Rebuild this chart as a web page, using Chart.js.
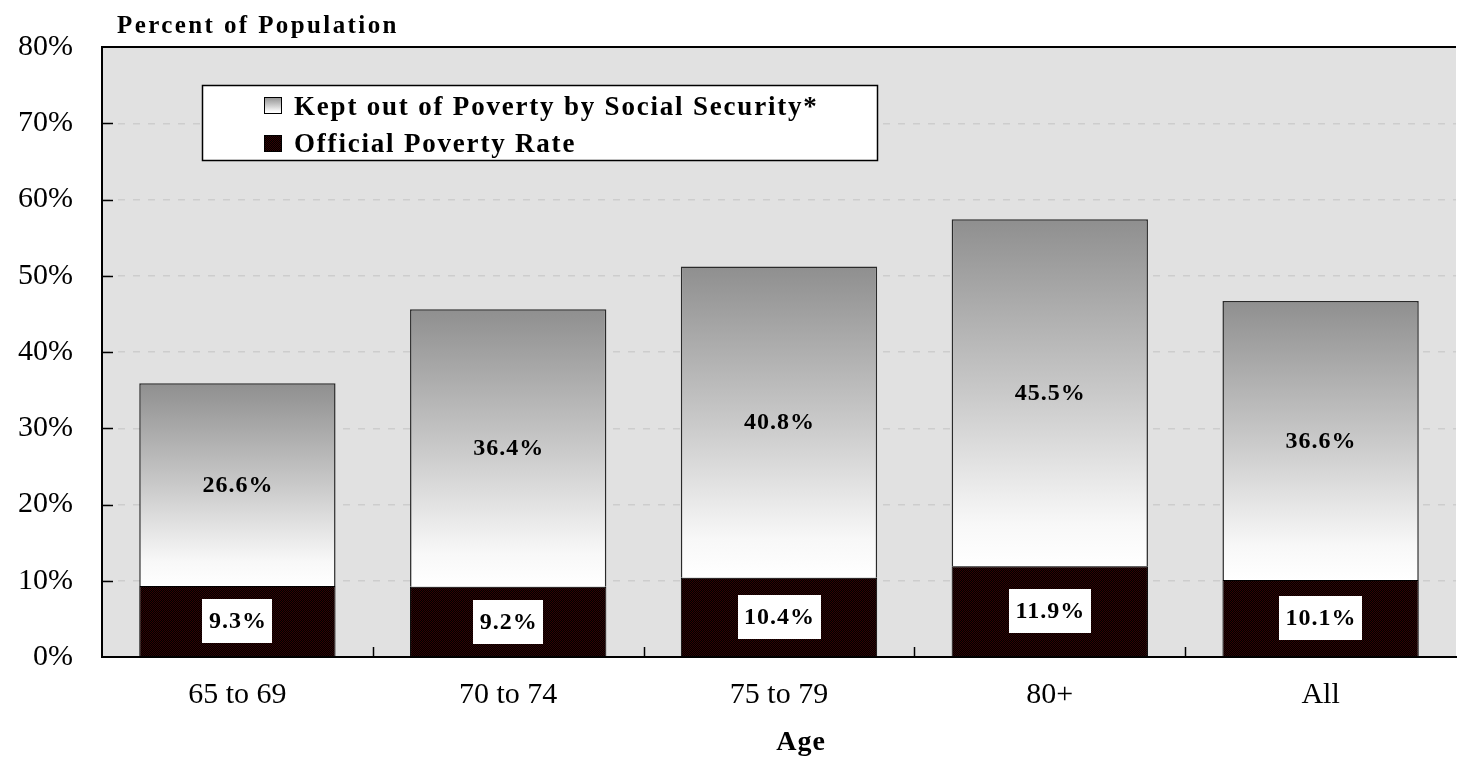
<!DOCTYPE html>
<html>
<head>
<meta charset="utf-8">
<script src="https://cdn.jsdelivr.net/npm/chart.js@4/dist/chart.umd.min.js"></script>
<style>
  html, body { margin: 0; padding: 0; background: #ffffff; }
  #wrap { width: 1458px; height: 757px; position: relative; }
</style>
</head>
<body>
<div id="wrap"><canvas id="c" width="1458" height="757"></canvas></div>
<script>
// ---- data ----
const categories = ['65 to 69', '70 to 74', '75 to 79', '80+', 'All'];
const officialRate = [9.3, 9.2, 10.4, 11.9, 10.1];
const keptOut = [26.6, 36.4, 40.8, 45.5, 36.6];
const seriesLabels = ['Official Poverty Rate', 'Kept out of Poverty by Social Security*'];
const yAxisTitle = 'Percent of Population';
const xAxisTitle = 'Age';
const yMin = 0, yMax = 80, yStep = 10;

const SERIF = '"Liberation Serif", "Times New Roman", serif';

// dark dotted fill for the official-rate bars
function makePattern() {
  const p = document.createElement('canvas');
  p.width = 2; p.height = 2;
  const g = p.getContext('2d');
  g.fillStyle = '#000000'; g.fillRect(0, 0, 2, 2);
  g.fillStyle = '#320303'; g.fillRect(0, 0, 1, 1); g.fillRect(1, 1, 1, 1);
  return g.createPattern(p, 'repeat');
}
const darkFill = makePattern();

function grayGradient(c2d, top, bot) {
  const g = c2d.createLinearGradient(0, top, 0, bot);
  g.addColorStop(0, '#8f8f8f');
  g.addColorStop(0.5, '#c9c9c9');
  g.addColorStop(0.88, '#f8f8f8');
  g.addColorStop(1, '#ffffff');
  return g;
}

const decorPlugin = {
  id: 'decor',
  beforeDraw(chart) {
    const { ctx, chartArea: a } = chart;
    ctx.save();
    ctx.fillStyle = '#ffffff';
    ctx.fillRect(0, 0, chart.width, chart.height);
    ctx.fillStyle = '#e1e1e1';
    ctx.fillRect(a.left, a.top, a.right - a.left, a.bottom - a.top);
    ctx.restore();
  },
  afterDatasetsDraw(chart) {
    const { ctx, chartArea: a, scales: { x, y } } = chart;
    ctx.save();
    // inward tick marks
    ctx.strokeStyle = '#000000';
    ctx.lineWidth = 1.5;
    for (let v = yMin + yStep; v < yMax; v += yStep) {
      const py = Math.round(y.getPixelForValue(v)) + 0.5;
      ctx.beginPath(); ctx.moveTo(a.left, py); ctx.lineTo(a.left + 11, py); ctx.stroke();
    }
    for (let i = 0; i < categories.length - 1; i++) {
      const px = Math.round((x.getPixelForValue(i) + x.getPixelForValue(i + 1)) / 2) + 0.5;
      ctx.beginPath(); ctx.moveTo(px, a.bottom); ctx.lineTo(px, a.bottom - 10); ctx.stroke();
    }
    // top frame line
    ctx.lineWidth = 2;
    ctx.beginPath(); ctx.moveTo(a.left, a.top); ctx.lineTo(a.right, a.top); ctx.stroke();

    // data labels
    ctx.textAlign = 'center';
    ctx.textBaseline = 'middle';
    ctx.font = 'bold 24px ' + SERIF;
    ctx.letterSpacing = '1px';
    chart.data.datasets.forEach((ds, di) => {
      const meta = chart.getDatasetMeta(di);
      meta.data.forEach((el, i) => {
        const p = el.getProps(['x', 'y', 'base'], true);
        const cy = (p.y + p.base) / 2;
        const txt = ds.data[i].toFixed(1) + '%';
        if (di === 0) {
          const w = ctx.measureText(txt).width + 12;
          const h = 44;
          ctx.fillStyle = '#ffffff';
          ctx.fillRect(Math.round(p.x - w / 2), Math.round(cy - h / 2), Math.round(w), h);
        }
        ctx.fillStyle = '#000000';
        ctx.fillText(txt, p.x + 0.5, cy + 1);
      });
    });
    ctx.restore();
  },
  afterDraw(chart) {
    const { ctx, chartArea: a } = chart;
    ctx.save();
    // y-axis title (horizontal, top-left)
    ctx.fillStyle = '#000000';
    ctx.textAlign = 'left';
    ctx.textBaseline = 'alphabetic';
    ctx.font = 'bold 25px ' + SERIF;
    ctx.letterSpacing = '2.4px';
    ctx.fillText(yAxisTitle, 117, 33);
    // x-axis title
    ctx.textAlign = 'center';
    ctx.font = 'bold 28px ' + SERIF;
    ctx.letterSpacing = '1px';
    ctx.fillText(xAxisTitle, (a.left + a.right) / 2 + 22, 750);

    // legend box
    const lx = 202, ly = 85, lw = 675, lh = 75;
    ctx.fillStyle = '#ffffff';
    ctx.fillRect(lx, ly, lw, lh);
    ctx.strokeStyle = '#000000';
    ctx.lineWidth = 1.5;
    ctx.strokeRect(lx + 0.5, ly + 0.5, lw, lh);
    const rows = [
      { label: chart.data.datasets[1].label, sy: 97, base: 115, kind: 'grad' },
      { label: chart.data.datasets[0].label, sy: 135, base: 152, kind: 'dark' }
    ];
    ctx.textAlign = 'left';
    ctx.font = 'bold 27px ' + SERIF;
    ctx.letterSpacing = '1.8px';
    rows.forEach(r => {
      if (r.kind === 'grad') {
        ctx.fillStyle = grayGradient(ctx, r.sy, r.sy + 16);
      } else {
        ctx.fillStyle = darkFill;
      }
      ctx.fillRect(264, r.sy, 17, 16);
      ctx.strokeStyle = '#000000';
      ctx.lineWidth = 1;
      ctx.strokeRect(264.5, r.sy + 0.5, 17, 16);
      ctx.fillStyle = '#000000';
      ctx.fillText(r.label, 294, r.base);
    });
    ctx.restore();
  }
};

const chart = new Chart(document.getElementById('c'), {
  type: 'bar',
  data: {
    labels: categories,
    datasets: [
      {
        label: seriesLabels[0],
        data: officialRate,
        backgroundColor: darkFill,
        borderColor: '#000000',
        borderWidth: 1,
        borderSkipped: 'start',
        barPercentage: 0.725,
        categoryPercentage: 1
      },
      {
        label: seriesLabels[1],
        data: keptOut,
        backgroundColor: (c) => {
          const ch = c.chart;
          if (!ch.chartArea || c.dataIndex === undefined) return '#c9c9c9';
          const y = ch.scales.y;
          const i = c.dataIndex;
          const top = y.getPixelForValue(officialRate[i] + keptOut[i]);
          const bot = y.getPixelForValue(officialRate[i]);
          return grayGradient(ch.ctx, top, bot);
        },
        borderColor: '#2a2a2a',
        borderWidth: 1.5,
        borderSkipped: 'start',
        barPercentage: 0.725,
        categoryPercentage: 1
      }
    ]
  },
  options: {
    responsive: false,
    animation: false,
    devicePixelRatio: 1,
    layout: { padding: { left: 0, top: 42, right: 2, bottom: 0 } },
    plugins: { legend: { display: false }, tooltip: { enabled: false }, title: { display: false } },
    scales: {
      x: {
        stacked: true,
        grid: { display: false, drawTicks: false },
        border: { display: true, color: '#000000', width: 2 },
        ticks: { color: '#000000', font: { family: SERIF, size: 30 }, padding: 20, maxRotation: 0 },
        afterFit: (s) => { s.height = 100; }
      },
      y: {
        stacked: true,
        min: yMin,
        max: yMax,
        grid: { color: '#cdcdcd', lineWidth: 1.5, drawTicks: false },
        border: { display: true, color: '#000000', width: 2, dash: [7, 8] },
        ticks: {
          stepSize: yStep,
          color: '#000000',
          font: { family: SERIF, size: 30 },
          padding: 29,
          callback: (v) => v + '%'
        },
        afterFit: (s) => { s.width = 102; }
      }
    }
  },
  plugins: [decorPlugin]
});
</script>
</body>
</html>
